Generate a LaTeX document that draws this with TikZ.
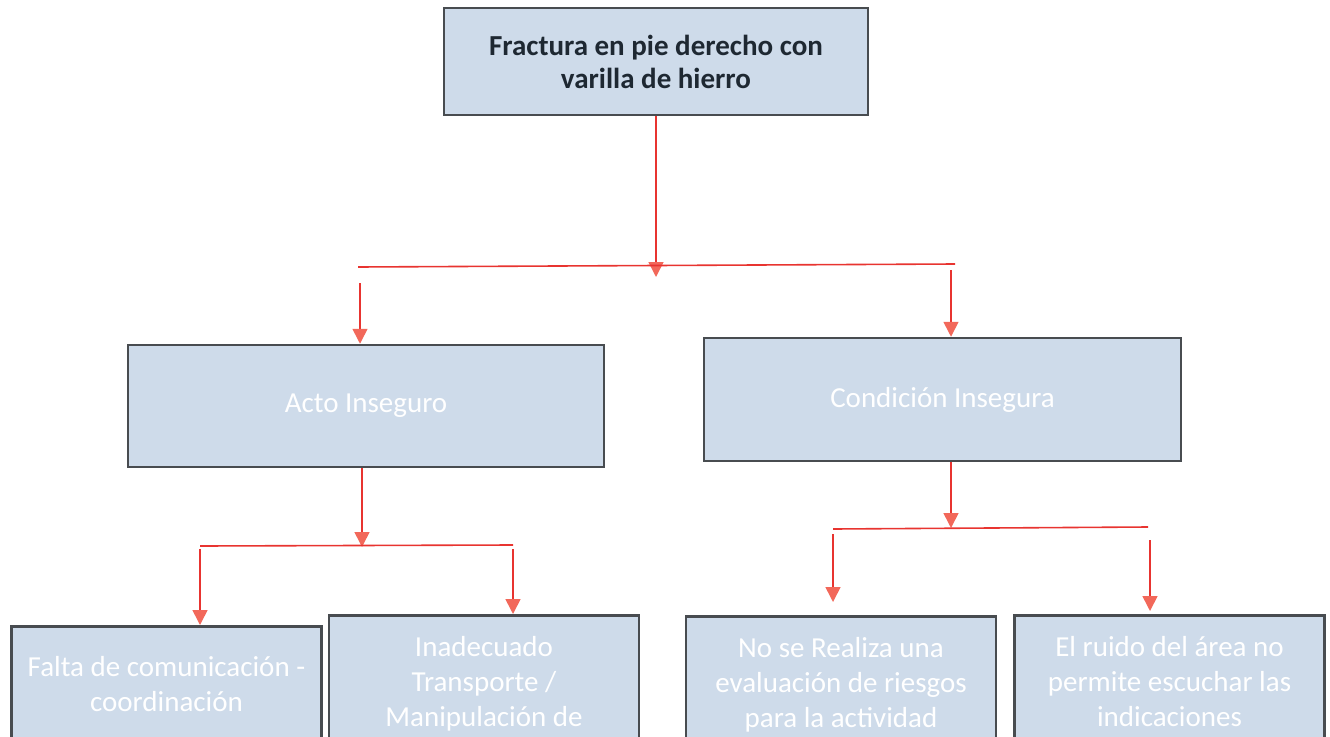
\documentclass[tikz,border=0pt]{standalone}
\usepackage{fontspec}
\setmainfont{Carlito}
\usepackage{tikz}
\usetikzlibrary{arrows.meta}
\usetikzlibrary{positioning}

\definecolor{boxfill}{RGB}{206,219,234}
\definecolor{boxline}{RGB}{72,76,80}
\definecolor{linered}{RGB}{232,52,48}
\definecolor{tipred}{RGB}{242,104,90}
\definecolor{titletext}{RGB}{30,40,50}

\begin{document}
\begin{tikzpicture}[x=1pt, y=-1pt,
                font=\fontsize{29}{35}\selectfont,
                block/.style={rectangle, draw=boxline, line width=2.5pt, fill=boxfill, text=white, align=flush center, inner sep=0pt},
                leaf/.style={block, anchor=north, text width=310pt, text height=41pt, text depth=150pt},
                arrow/.style={draw=linered, line width=1.6pt, -{Triangle[length=15pt,width=15pt,color=tipred]}},
                bar/.style={draw=linered, line width=1.6pt}
            ]
            \useasboundingbox (0,0) rectangle (1330,736);
            \clip (0,0) rectangle (1330,736);
            % boxes
            \node[block, text=titletext, font=\fontsize{29}{33}\selectfont\bfseries, minimum width=424pt, minimum height=107pt] (top) at (656,61.5) {Fractura en pie derecho con\\varilla de hierro};
            \node[block, minimum width=476pt, minimum height=122pt, text depth=5pt] (acto) at (366,406) {Acto Inseguro};
            \node[block, minimum width=477pt, minimum height=123pt, text depth=5pt] (cond) at (942.5,399.5) {Condición Insegura};
            \node[leaf, text height=50pt] (falta) at (166.5,625) {Falta de comunicación -\\coordinación};
            \node[leaf] (inad) at (484,614) {Inadecuado\\Transporte /\\Manipulación de};
            \node[leaf] (nose) at (841,615) {No se Realiza una\\evaluación de riesgos\\para la actividad};
            \node[leaf] (ruido) at (1169.5,614) {El ruido del área no\\permite escuchar las\\indicaciones};
            % junctions
            \coordinate (j1) at (656,277);
            \coordinate (j2) at (362,547);
            \coordinate (j3) at (951,528);
            \coordinate (b1l) at (358,267);
            \coordinate (b1r) at (955,264);
            \coordinate (b2l) at (200,546);
            \coordinate (b2r) at (513,545);
            \coordinate (b3l) at (833,529);
            \coordinate (b3r) at (1148,527);
            \coordinate (d1) at (360,283);
            \coordinate (d2) at (951,270);
            \coordinate (d3) at (200,549);
            \coordinate (d4) at (513,549);
            \coordinate (d5) at (833,534);
            \coordinate (d6) at (1150,540);
            % connectors
            \path[arrow] (top) -- (j1);
            \path[bar] (b1l) -- (b1r);
            \path[arrow] (d1) -- (d1 |- acto.north);
            \path[arrow] (d2) -- (d2 |- cond.north);
            \path[arrow] (acto.south -| j2) -- (j2);
            \path[bar] (b2l) -- (b2r);
            \path[arrow] (d3) -- (d3 |- falta.north);
            \path[arrow] (d4) -- (d4 |- inad.north);
            \path[arrow] (cond.south -| j3) -- (j3);
            \path[bar] (b3l) -- (b3r);
            \path[arrow, shorten >=13pt] (d5) -- (d5 |- nose.north);
            \path[arrow, shorten >=3pt] (d6) -- (d6 |- ruido.north);
        \end{tikzpicture}
\end{document}
